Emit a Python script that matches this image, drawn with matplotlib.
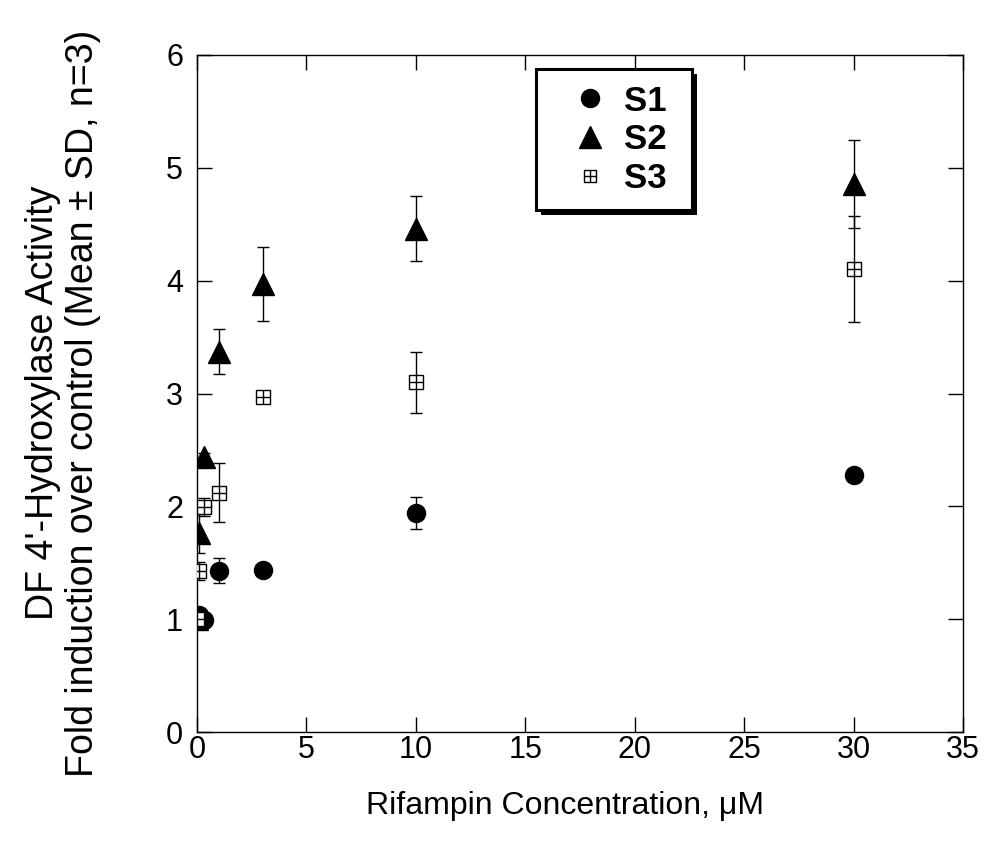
import matplotlib
matplotlib.use("Agg")
import matplotlib.pyplot as plt
from matplotlib.lines import Line2D
from matplotlib.patches import Rectangle
from matplotlib.transforms import IdentityTransform
from matplotlib.legend_handler import HandlerTuple

plt.rcParams['font.family'] = ['Liberation Sans', 'DejaVu Sans']

conc = [0, 0.1, 0.3, 1, 3, 10, 30]
s1 = [1.0, 1.04, 0.99, 1.43, 1.44, 1.94, 2.28]
s1_sd = [0.0, 0.02, 0.02, 0.11, 0.02, 0.14, 0.03]
s2 = [1.0, 1.76, 2.44, 3.37, 3.97, 4.46, 4.86]
s2_sd = [0.0, 0.17, 0.03, 0.20, 0.33, 0.29, 0.39]
s3 = [1.0, 1.43, 1.99, 2.12, 2.97, 3.10, 4.10]
s3_sd = [0.0, 0.08, 0.08, 0.26, 0.03, 0.27, 0.47]
labels = ['S1', 'S2', 'S3']
xticks = [0, 5, 10, 15, 20, 25, 30, 35]
yticks = [0, 1, 2, 3, 4, 5, 6]

W, H = 988, 859
fig = plt.figure(figsize=(W / 100, H / 100), dpi=100)
ax = fig.add_axes([197 / W, 1 - 732 / H, 766 / W, 677 / H])

ebkw = dict(fmt='none', ecolor='black', elinewidth=1.0, capsize=4, capthick=1.0)
ax.errorbar(conc, s2, yerr=s2_sd, zorder=2, **ebkw)
ax.errorbar(conc, s1, yerr=s1_sd, zorder=2, **ebkw)
ax.errorbar(conc, s3, yerr=s3_sd, zorder=2, **ebkw)

ax.plot(conc, s2, linestyle='none', marker='^', markersize=16, color='black', zorder=3)
ax.plot(conc, s1, linestyle='none', marker='o', markersize=13, color='black', zorder=4)
ax.plot(conc, s3, linestyle='none', marker='s', markersize=10, markerfacecolor='white',
        markeredgecolor='black', markeredgewidth=1.0, zorder=5)
ax.plot(conc, s3, linestyle='none', marker='+', markersize=10, markeredgecolor='black',
        markeredgewidth=1.0, zorder=6)

ax.set_xlim(0, 35)
ax.set_ylim(0, 6)
ax.set_xticks(xticks)
ax.set_yticks(yticks)
ax.tick_params(direction='in', length=11, width=1, top=True, right=True, labelsize=22)
ax.tick_params(axis='x', pad=2)
ax.tick_params(axis='y', pad=10)
for sp in ax.spines.values():
    sp.set_linewidth(1.0)

fig.text(565 / W, 1 - 806 / H, 'Rifampin Concentration, \u03bcM', fontsize=23,
         ha='center', va='center')
fig.text(63 / W, 1 - 403 / H,
         "DF 4'-Hydroxylase Activity\nFold induction over control (Mean \u00b1 SD, n=3)",
         fontsize=27, rotation=90, ha='center', va='center', multialignment='center',
         linespacing=1.14)

h1 = Line2D([], [], linestyle='none', marker='o', markersize=13, color='black')
h2 = Line2D([], [], linestyle='none', marker='^', markersize=16, color='black')
h3a = Line2D([], [], linestyle='none', marker='s', markersize=9, markerfacecolor='white',
             markeredgecolor='black', markeredgewidth=1.0)
h3b = Line2D([], [], linestyle='none', marker='+', markersize=9, markeredgecolor='black',
             markeredgewidth=1.0)

x0 = (536 - 197) / 766
y1 = (732 - 69) / 677
wbox = 156 / 766
leg = ax.legend([h1, h2, (h3a, h3b)], labels, loc='upper left',
                bbox_to_anchor=(x0, y1 - 0.2, wbox, 0.2), mode='expand',
                frameon=True, fancybox=False, edgecolor='black', framealpha=1,
                prop={'weight': 'bold', 'size': 25},
                handlelength=2.21, handletextpad=-0.12, borderpad=0.45, labelspacing=0.16,
                borderaxespad=0, handler_map={tuple: HandlerTuple(ndivide=1, pad=0)})
leg.get_frame().set_linewidth(2.2)
leg.set_zorder(10)

fig.canvas.draw()
bb = leg.get_window_extent()
shadow = Rectangle((bb.x0 + 5, bb.y0 - 5), bb.width, bb.height, transform=IdentityTransform(),
                   facecolor='black', edgecolor='none', zorder=9, clip_on=False)
ax.add_patch(shadow)

fig.savefig('out.png', dpi=100)
